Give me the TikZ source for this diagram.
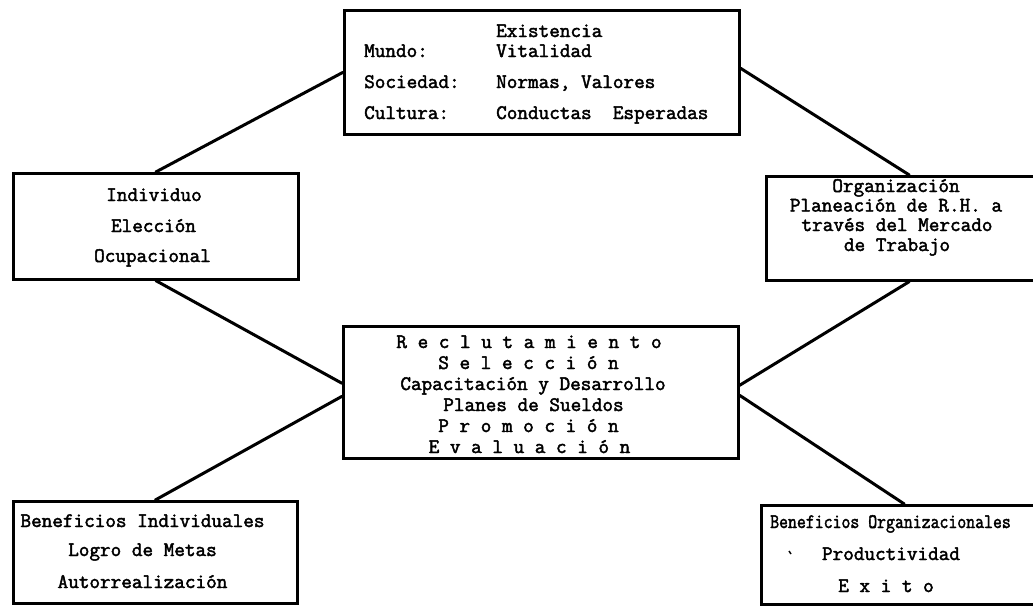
\documentclass[tikz,border=0pt]{standalone}
\usepackage{fontspec}
\newfontfamily\tw{Latin Modern Mono}[FakeBold=2.2]
\usetikzlibrary{calc}
\begin{document}
\begin{tikzpicture}[x=1pt,y=-1pt,
  box/.style={draw, line width=2.6pt, inner sep=0pt, anchor=north west},
  link/.style={line width=3pt, line cap=round},
  txt/.style={anchor=base, inner sep=0pt, font={\tw\fontsize{20.6}{24}\selectfont}},
  txtl/.style={txt, anchor=base west}]
\useasboundingbox (0,0) rectangle (1033,605);
\fill[white] (0,0) rectangle (1033,605);
\clip (0,0) rectangle (1033,605);

% frames
\node[box, minimum width=395pt, minimum height=124pt] (top) at (343,9) {};
\node[box, minimum width=285pt, minimum height=106pt] (ind) at (12,172) {};
\node[box, minimum width=286pt, minimum height=104pt] (org) at (765,175) {};
\node[box, minimum width=395pt, minimum height=132pt] (mid) at (342,325) {};
\node[box, minimum width=284pt, minimum height=102pt] (bi)  at (12,500) {};
\node[box, minimum width=286pt, minimum height=99pt]  (bo)  at (760,504) {};

% connectors
\draw[link] (top.west) -- (ind.north);
\draw[link] ($(top.east)+(0,-4)$) -- (org.north);
\draw[link] (ind.south) -- ($(mid.west)+(0,-9)$);
\draw[link] ($(mid.west)+(0,4)$) -- (bi.north);
\draw[link] (org.south) -- ($(mid.east)+(0,-7)$);
\draw[link] ($(mid.east)+(0,3)$) -- (bo.north);

% top frame
\node[txtl] (t1) at (496,37) {Existencia};
\node[txtl] (t2) at (364,57) {Mundo:};
\node[txtl] (t3) at (496,57) {Vitalidad};
\node[txtl] (t4) at (364,88) {Sociedad:};
\node[txtl] (t5) at (496,88) {Normas, Valores};
\node[txtl] (t6) at (364,119) {Cultura:};
\node[txtl] (t7) at (496,119) {Conductas\ \ Esperadas};

% individual
\node[txt] (i1) at (154,201) {Individuo};
\node[txt] (i2) at (153.5,232) {Elección};
\node[txt] (i3) at (152.5,262) {Ocupacional};

% organisation
\node[txt] (o1) at (896,192) {Organización};
\node[txt] (o2) at (896,211.5) {Planeación de R.H. a};
\node[txt] (o3) at (897,231) {través del Mercado};
\node[txt] (o4) at (897,251) {de Trabajo};

% central processes
\node[txt] (m1) at (529,348) {R e c l u t a m i e n t o};
\node[txt] (m2) at (528.5,369) {S e l e c c i ó n};
\node[txt] (m3) at (533,390) {Capacitación y Desarrollo};
\node[txt] (m4) at (533.5,411) {Planes de Sueldos};
\node[txt] (m5) at (528.5,432) {P r o m o c i ó n};
\node[txt] (m6) at (529.5,453) {E v a l u a c i ó n};

% individual benefits
\node[txt] (b1) at (142.5,527) {Beneficios Individuales};
\node[txt] (b2) at (142.5,556) {Logro de Metas};
\node[txt] (b3) at (142.5,588) {Autorrealización};

% organisational benefits
\node[txt] (c1) at (890.5,528) {\scalebox{0.84}[1]{Beneficios Organizacionales}};
\draw[line width=1.4pt] (789,551) -- (791,554);
\node[txt] (c2) at (891,560) {Productividad};
\node[txt] (c3) at (886,592) {E x i t o};
\end{tikzpicture}
\end{document}
